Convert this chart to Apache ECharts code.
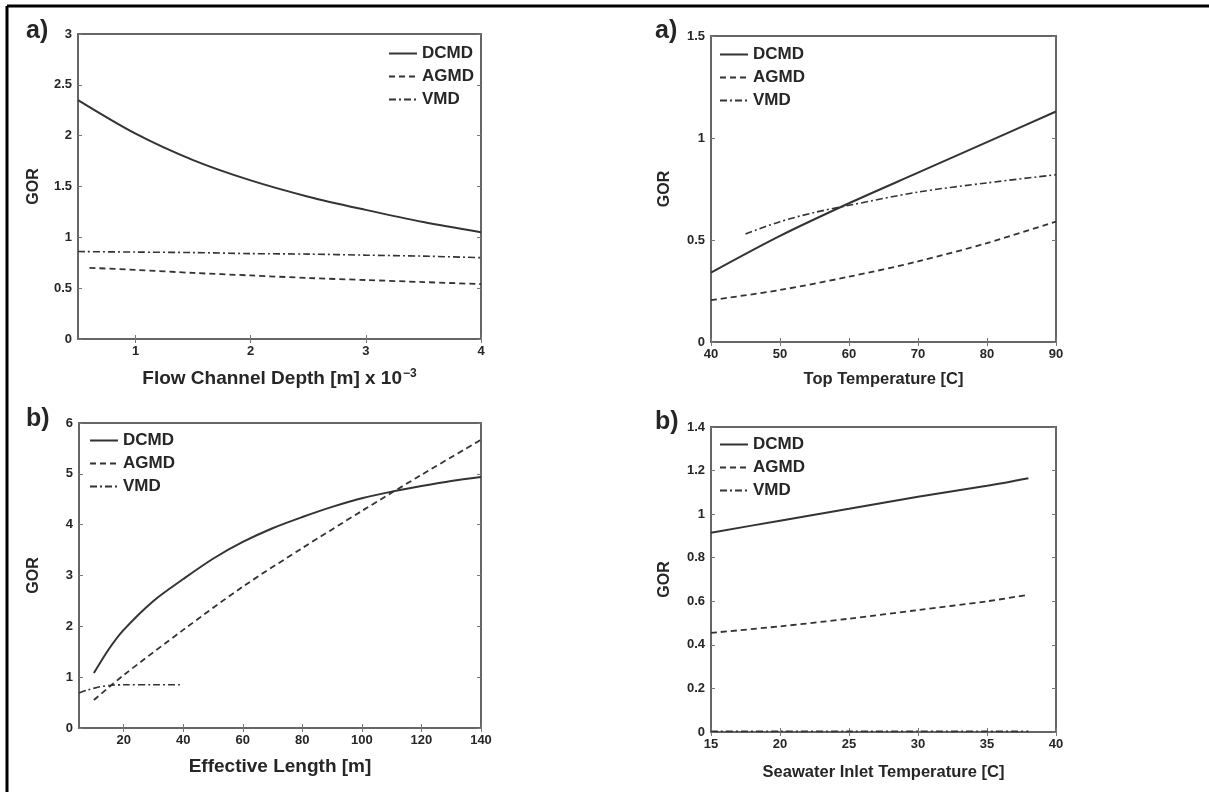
<!DOCTYPE html>
<html>
<head>
<meta charset="utf-8">
<script src="https://cdn.jsdelivr.net/npm/echarts@6/dist/echarts.min.js"></script>
<style>html,body{margin:0;padding:0;background:#fff}#c{width:1209px;height:792px}</style>
</head>
<body>
<div id="c"></div>
<script>
// ---------- data ----------
const seriesNames = ['DCMD', 'AGMD', 'VMD'];

// Panel a) left: Flow channel depth
const p1X = [0.5, 1, 1.5, 2, 2.5, 3, 3.5, 4];
const p1DCMD = [2.35, 2.02, 1.76, 1.56, 1.40, 1.27, 1.15, 1.05];
const p1AGMDx = [0.6, 1, 1.5, 2, 2.5, 3, 3.5, 4];
const p1AGMD = [0.70, 0.68, 0.65, 0.625, 0.60, 0.58, 0.56, 0.54];
const p1VMD = [0.86, 0.855, 0.85, 0.84, 0.835, 0.825, 0.815, 0.80];
const p1XTicks = [1, 2, 3, 4];

// Panel a) right: Top temperature
const p2X = [40, 50, 60, 70, 80, 90];
const p2DCMD = [0.34, 0.52, 0.68, 0.83, 0.98, 1.13];
const p2AGMD = [0.205, 0.255, 0.32, 0.395, 0.485, 0.59];
const p2VMDx = [45, 50, 55, 60, 70, 80, 90];
const p2VMD = [0.53, 0.59, 0.635, 0.67, 0.735, 0.78, 0.82];

// Panel b) left: Effective length
const p3DCMDx = [10, 15, 20, 30, 40, 50, 60, 70, 80, 90, 100, 110, 120, 130, 140];
const p3DCMD = [1.08, 1.55, 1.93, 2.50, 2.93, 3.33, 3.66, 3.93, 4.15, 4.35, 4.52, 4.65, 4.76, 4.86, 4.94];
const p3AGMDx = [10, 20, 40, 60, 80, 100, 120, 140];
const p3AGMD = [0.55, 1.04, 1.93, 2.78, 3.54, 4.27, 4.98, 5.67];
const p3VMDx = [5, 8, 12, 16, 20, 30, 40];
const p3VMD = [0.69, 0.75, 0.81, 0.84, 0.85, 0.85, 0.85];
const p3XTicks = [20, 40, 60, 80, 100, 120, 140];

// Panel b) right: Seawater inlet temperature
const p4X = [15, 20, 25, 30, 35, 38];
const p4DCMD = [0.915, 0.97, 1.025, 1.08, 1.13, 1.165];
const p4AGMD = [0.455, 0.485, 0.52, 0.56, 0.60, 0.63];
const p4VMD = [0.003, 0.003, 0.003, 0.003, 0.003, 0.003];

// ---------- helpers ----------
const zip = (xs, ys) => xs.map((x, i) => [x, ys[i]]);
const FONT = '"Liberation Sans", Arial, sans-serif';
const TXT = '#262626';
const LINE = '#333333';
const styles = {
  DCMD: { type: 'solid', width: 2 },
  AGMD: { type: [6, 4], width: 1.8 },
  VMD: { type: [7, 3, 2, 3], width: 1.6 }
};

function mkSeries(name, g, data) {
  return {
    type: 'line', name, xAxisIndex: g * 2, yAxisIndex: g * 2,
    data, symbol: 'none', smooth: 0.3, silent: true,
    lineStyle: Object.assign({ color: LINE }, styles[name]),
    itemStyle: { color: LINE }
  };
}

const grids = [
  { left: 78, top: 34, width: 403, height: 305 },
  { left: 711, top: 36, width: 345, height: 306 },
  { left: 79, top: 423, width: 402, height: 305 },
  { left: 711, top: 427, width: 345, height: 305 }
];

const xCfg = [
  { min: 0.5, max: 4, custom: p1XTicks,
    name: '{a|Flow Channel Depth [m] x 10}{s|−3}', gap: 29, fs: 19 },
  { min: 40, max: 90, interval: 10, name: 'Top Temperature [C]', gap: 29, fs: 16.5 },
  { min: 5, max: 140, custom: p3XTicks, name: 'Effective Length [m]', gap: 29, fs: 19 },
  { min: 15, max: 40, interval: 5, name: 'Seawater Inlet Temperature [C]', gap: 32, fs: 16.5 }
];
const yCfg = [
  { min: 0, max: 3, interval: 0.5, gap: 36 },
  { min: 0, max: 1.5, interval: 0.5, gap: 38 },
  { min: 0, max: 6, interval: 1, gap: 37 },
  { min: 0, max: 1.4, interval: 0.2, gap: 38 }
];

const xAxes = [], yAxes = [];
xCfg.forEach((c, g) => {
  const base = {
    type: 'value', gridIndex: g, min: c.min, max: c.max,
    splitLine: { show: false },
    axisLine: { show: false },
    axisTick: { show: true, inside: true, length: 4, lineStyle: { color: '#777', width: 1 } }
  };
  if (c.interval) base.interval = c.interval;
  if (c.custom) { base.axisTick.customValues = c.custom; }
  const main = Object.assign({}, base, {
    position: 'bottom',
    name: c.name, nameLocation: 'middle', nameGap: c.gap,
    nameTextStyle: {
      fontFamily: FONT, fontWeight: 'bold', fontSize: c.fs, color: TXT,
      rich: {
        a: { fontFamily: FONT, fontWeight: 'bold', fontSize: c.fs, color: TXT },
        s: { fontFamily: FONT, fontWeight: 'bold', fontSize: 12, color: TXT, verticalAlign: 'top', padding: [0, 0, 10, 1] }
      }
    },
    axisLabel: { fontFamily: FONT, fontWeight: 'bold', fontSize: 13, color: TXT, margin: 6 }
  });
  if (c.custom) main.axisLabel.customValues = c.custom;
  const top = Object.assign({}, base, { position: 'top', axisLabel: { show: false } });
  xAxes.push(main, top);
});
yCfg.forEach((c, g) => {
  const base = {
    type: 'value', gridIndex: g, min: c.min, max: c.max, interval: c.interval,
    splitLine: { show: false },
    axisLine: { show: false },
    axisTick: { show: true, inside: true, length: 4, lineStyle: { color: '#777', width: 1 } }
  };
  const main = Object.assign({}, base, {
    position: 'left',
    name: 'GOR', nameLocation: 'middle', nameGap: c.gap, nameRotate: 90,
    nameTextStyle: { fontFamily: FONT, fontWeight: 'bold', fontSize: 16, color: TXT },
    axisLabel: { fontFamily: FONT, fontWeight: 'bold', fontSize: 13, color: TXT, margin: 6 }
  });
  const right = Object.assign({}, base, { position: 'right', axisLabel: { show: false } });
  yAxes.push(main, right);
});

const series = [
  mkSeries('DCMD', 0, zip(p1X, p1DCMD)),
  mkSeries('AGMD', 0, zip(p1AGMDx, p1AGMD)),
  mkSeries('VMD', 0, zip(p1X, p1VMD)),
  mkSeries('DCMD', 1, zip(p2X, p2DCMD)),
  mkSeries('AGMD', 1, zip(p2X, p2AGMD)),
  mkSeries('VMD', 1, zip(p2VMDx, p2VMD)),
  mkSeries('DCMD', 2, zip(p3DCMDx, p3DCMD)),
  mkSeries('AGMD', 2, zip(p3AGMDx, p3AGMD)),
  mkSeries('VMD', 2, zip(p3VMDx, p3VMD)),
  mkSeries('DCMD', 3, zip(p4X, p4DCMD)),
  mkSeries('AGMD', 3, zip(p4X, p4AGMD)),
  mkSeries('VMD', 3, zip(p4X, p4VMD))
];

const legendPos = [[388, 45], [719, 46], [89, 432], [719, 436]];
const legends = legendPos.map(p => ({
  data: seriesNames, left: p[0], top: p[1], orient: 'vertical',
  itemStyle: { color: 'rgba(0,0,0,0)', borderWidth: 0, opacity: 0 },
  itemWidth: 28, itemHeight: 14, itemGap: 6, padding: 0, selectedMode: false,
  textStyle: { fontFamily: FONT, fontWeight: 'bold', fontSize: 17, color: TXT }
}));

const panelLabels = [['a)', 26, 19], ['a)', 655, 19], ['b)', 26, 407], ['b)', 655, 410]];
const titles = panelLabels.map(p => ({
  text: p[0], left: p[1], top: p[2], padding: 0,
  textStyle: { fontFamily: FONT, fontWeight: 'bold', fontSize: 25, color: TXT }
}));

const option = {
  backgroundColor: '#fff',
  animation: false,
  title: titles,
  legend: legends,
  grid: grids.map(g => Object.assign({ show: true, borderColor: '#666', borderWidth: 2, backgroundColor: 'transparent' }, g)),
  xAxis: xAxes,
  yAxis: yAxes,
  series,
  graphic: [
    { type: 'line', shape: { x1: 7, y1: 6, x2: 1209, y2: 6 }, style: { stroke: '#000', lineWidth: 3 } },
    { type: 'line', shape: { x1: 7, y1: 6, x2: 7, y2: 792 }, style: { stroke: '#000', lineWidth: 3 } }
  ]
};

const chart = echarts.init(document.getElementById('c'), null, { renderer: 'canvas' });
chart.setOption(option);
</script>
</body>
</html>
